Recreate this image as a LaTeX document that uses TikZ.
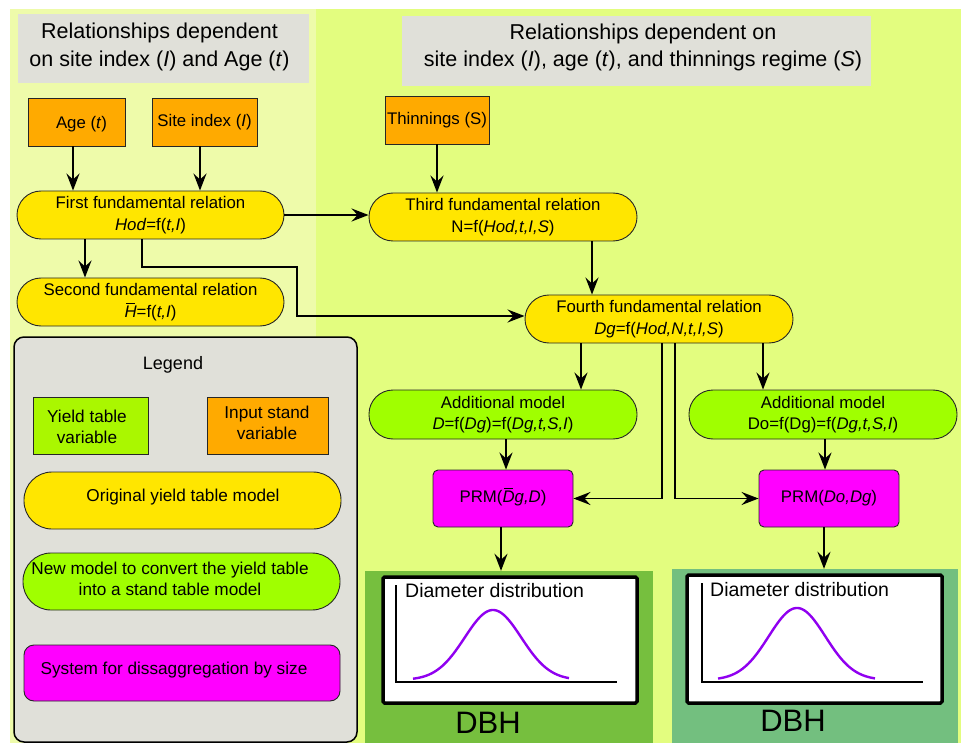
\documentclass[tikz,border=0pt]{standalone}
\usepackage{fontspec}
\setmainfont{Liberation Sans}
\usetikzlibrary{arrows.meta}
\definecolor{bgL}{HTML}{EEFBAA}
\definecolor{bgR}{HTML}{E3FD7F}
\definecolor{hdrgray}{HTML}{E0E0D9}
\definecolor{orng}{HTML}{FFAA00}
\definecolor{yel}{HTML}{FFE600}
\definecolor{grn}{HTML}{A0FF00}
\definecolor{ygrn}{HTML}{AAF700}
\definecolor{mag}{HTML}{FF00FF}
\definecolor{panL}{HTML}{76BF3E}
\definecolor{panR}{HTML}{73BF7F}
\definecolor{purp}{HTML}{9000F0}
\newcommand\fntbox{\fontsize{16.8}{21.5}\selectfont}
\newcommand\fnthead{\fontsize{21.5}{27.5}\selectfont}
\newcommand\fntleg{\fontsize{17.2}{21.5}\selectfont}
\newcommand\fntdia{\fontsize{19.5}{22}\selectfont}
\newcommand\fntdbh{\fontsize{31}{34}\selectfont}
\newcommand\obar[1]{\ooalign{#1\cr\hidewidth\rule[0.8em]{0.55em}{0.06em}\hidewidth\cr}}
\tikzset{
  rbox/.style={draw=black!85, line width=0.9pt, fill=#1, rounded corners=24pt,
    minimum height=48pt, inner sep=0pt, align=center, font=\fntbox},
  sqbox/.style={draw=black!85, line width=0.9pt, fill=#1, inner sep=0pt,
    align=center, font=\fntbox},
  prmbox/.style={draw=black!85, line width=0.9pt, fill=mag, rounded corners=5pt,
    minimum width=140pt, minimum height=57pt, inner sep=0pt, font=\fntbox},
  arr/.style={line width=1.9pt, -{Stealth[length=17pt,width=13pt,inset=6pt]}},
  hdrtext/.style={align=center, font=\fnthead, inner sep=0pt},
  legtext/.style={align=center, font=\fntleg, inner sep=0pt},
  diabox/.style={draw=black, line width=3.5pt, fill=white, rounded corners=1.5pt},
  axisline/.style={line width=2.6pt},
  bell/.style={draw=purp, line width=2.4pt},
}
\begin{document}
\begin{tikzpicture}[x=1pt,y=-1pt]
\useasboundingbox (0,0) rectangle (961,743);
\fill[white] (0,0) rectangle (961,743);
\fill[bgR] (10,9) rectangle (961,743);
\fill[bgL] (10,9) rectangle (316,743);

% headers
\fill[hdrgray] (18,14) rectangle (309,83);
\node[hdrtext] (hdrL) at (159.5,47) {Relationships dependent\\on site index (\textit{I}) and Age (\textit{t})};
\fill[hdrgray] (402,16) rectangle (871,86);
\node[hdrtext] (hdrR) at (643,47.5) {Relationships dependent on\\site index (\textit{I}), age (\textit{t}), and thinnings regime (\textit{S})};

% inputs
\node[sqbox=orng, minimum width=97pt, minimum height=48pt] (age) at (76.5,122) {};
\node[font=\fntbox, inner sep=0pt] (agetext) at (81.5,124) {Age (\textit{t})};
\node[sqbox=orng, minimum width=105pt, minimum height=48pt] (site) at (204.5,122) {Site index (\textit{I})};
\node[sqbox=orng, minimum width=104pt, minimum height=48pt] (thin) at (437,120) {Thinnings (S)};

% fundamental relations
\node[rbox=yel, minimum width=267pt] (first) at (150.5,215) {First fundamental relation\\\textit{Hod}=f(\textit{t,I})};
\node[rbox=yel, minimum width=267pt] (second) at (150.5,302) {Second fundamental relation\\\textit{\obar{H}}=f(\textit{t,I})};
\node[rbox=yel, minimum width=268pt] (third) at (503,217) {Third fundamental relation\\N=f(\textit{Hod,t,I,S})};
\node[rbox=yel, minimum width=268pt] (fourth) at (659,319) {Fourth fundamental relation\\\textit{Dg}=f(\textit{Hod,N,t,I,S})};
\node[rbox=grn, minimum width=268pt, minimum height=49pt] (addL) at (503,414.5) {Additional model\\\textit{D}=f(\textit{Dg})=f(\textit{Dg,t,S,I})};
\node[rbox=grn, minimum width=268pt, minimum height=49pt] (addR) at (823,414.5) {Additional model\\Do=f(Dg)=f(\textit{Dg,t,S,I})};
\node[prmbox] (prmL) at (503,498.5) {PRM(\textit{\obar{D}g,D})};
\node[prmbox] (prmR) at (829,498.5) {PRM(\textit{Do,Dg})};

% DBH panels
\node[fill=panL, minimum width=288pt, minimum height=172pt, inner sep=0pt] (panelL) at (509,657) {};
\node[fill=panR, minimum width=286pt, minimum height=174pt, inner sep=0pt] (panelR) at (815,656) {};
\draw[diabox] (383,577) rectangle (637,703);
\draw[diabox] (687,575) rectangle (942,703);
\draw[axisline] (396,585) |- (617,682);
\draw[axisline] (702,583) |- (923,682);
\node[font=\fntdia, anchor=base west, inner sep=0pt] (diaL) at (405,597) {Diameter distribution};
\node[font=\fntdia, anchor=base west, inner sep=0pt] (diaR) at (710,596) {Diameter distribution};
\draw[bell] plot[domain=-80:76, samples=90, smooth] ({493+\x},{680-70*exp(0-((\x)*(\x))/1600)});
\draw[bell] plot[domain=-79:78, samples=90, smooth] ({797+\x},{680-72*exp(0-((\x)*(\x))/1600)});
\node[font=\fntdbh, inner sep=0pt] (dbhL) at (488,723) {DBH};
\node[font=\fntdbh, inner sep=0pt] (dbhR) at (793,721) {DBH};

% connectors
\draw[arr] (age.south -| 73,0) -- (first.north -| 73,0);
\draw[arr] (site.south -| 200,0) -- (first.north -| 200,0);
\draw[arr] (first.east) -- (first.east -| third.west);
\draw[arr] (first.south -| 85,0) -- (second.north -| 85,0);
\draw[arr] (first.south -| 142,0) -- (142,267) -- (297,267) |- (fourth.west |- 0,316);
\draw[arr] (thin.south) -- (thin.south |- third.north);
\draw[arr] (third.south -| 592,0) -- (fourth.north -| 592,0);
\draw[arr] (fourth.south -| 581,0) -- (addL.north -| 581,0);
\draw[arr] (fourth.south -| 763,0) -- (addR.north -| 763,0);
\draw[arr] (fourth.south -| 662,0) |- (prmL.east);
\draw[arr] (fourth.south -| 675,0) |- (prmR.west);
\draw[arr] (addL.south -| 506,0) -- (prmL.north -| 506,0);
\draw[arr] (addR.south -| 825,0) -- (prmR.north -| 825,0);
\draw[arr] (prmL.south -| 501,0) -- (panelL.north -| 501,0);
\draw[arr] (prmR.south -| 824,0) -- (panelR.north -| 824,0);

% legend
\node[draw=black, line width=1.5pt, fill=hdrgray, rounded corners=10pt, minimum width=343pt, minimum height=405pt, inner sep=0pt] (legend) at (185.5,539.5) {};
\node[font=\fontsize{18}{22}\selectfont, inner sep=0pt] (legtitle) at (173,365) {Legend};
\node[sqbox=ygrn, minimum width=115pt, minimum height=57pt] (legyield) at (90.5,425.5) {};
\node[legtext] (legyieldtext) at (87,427) {Yield table\\variable};
\node[sqbox=orng, minimum width=121pt, minimum height=57pt] (leginput) at (267.5,425.5) {};
\node[legtext] (leginputtext) at (267,423) {Input stand\\variable};
\node[rbox=yel, minimum width=317pt, minimum height=57pt, rounded corners=28pt] (legorig) at (182.5,500.5) {};
\node[legtext] (legorigtext) at (183,497) {Original yield table model};
\node[rbox=grn, minimum width=317pt, minimum height=57pt, rounded corners=28pt] (legnew) at (181.5,581.5) {};
\node[legtext] (legnewtext) at (170,579) {New model to convert the yield table\\into a stand table model};
\node[sqbox=mag, rounded corners=10pt, minimum width=316pt, minimum height=56pt] (legsys) at (182,673) {};
\node[legtext] (legsystext) at (174,670) {System for dissaggregation by size};
\end{tikzpicture}
\end{document}
